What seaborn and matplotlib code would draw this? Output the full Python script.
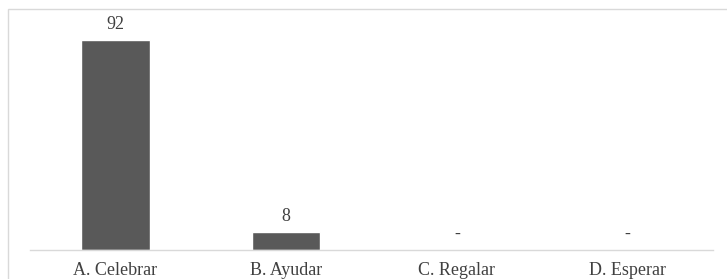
import matplotlib.pyplot as plt
import seaborn as sns
import pandas as pd
from matplotlib.patches import Rectangle

# Data
categories = ["A. Celebrar", "B. Ayudar", "C. Regalar", "D. Esperar"]
values = [92, 8, 0, 0]

df = pd.DataFrame({"categoria": categories, "valor": values})

sns.set_theme(style="white")
plt.rcParams["font.family"] = ["Liberation Serif", "DejaVu Serif"]

fig = plt.figure(figsize=(7.27, 2.79), dpi=100)
W, H = 727, 279

# light frame around the chart area
fig.patches.append(Rectangle((8 / W, -0.05), 1.0, 1 - 9 / H + 0.05,
                             transform=fig.transFigure, fill=False,
                             edgecolor="#d9d9d9", linewidth=1.0))

ax = fig.add_axes([30 / W, 1 - 250 / H, (713 - 30) / W, (250 - 21.7) / H])
sns.barplot(data=df, x="categoria", y="valor", color="#595959",
            saturation=1, width=0.4, ax=ax)

labels = [str(v) if v != 0 else "-" for v in values]
ax.bar_label(ax.containers[0], labels=labels, padding=5,
             fontsize=13, color="#404040")

ax.set_ylim(0, 100)
ax.set_xlim(-0.5, len(categories) - 0.5)
ax.set_xlabel("")
ax.set_ylabel("")
ax.set_yticks([])
ax.tick_params(axis="x", length=0, pad=8.5, labelsize=13, labelcolor="#404040")
for side in ["top", "right", "left"]:
    ax.spines[side].set_visible(False)
ax.spines["bottom"].set_color("#d9d9d9")
ax.spines["bottom"].set_linewidth(1.0)
ax.patch.set_alpha(0)

fig.savefig("out.png", dpi=100)
